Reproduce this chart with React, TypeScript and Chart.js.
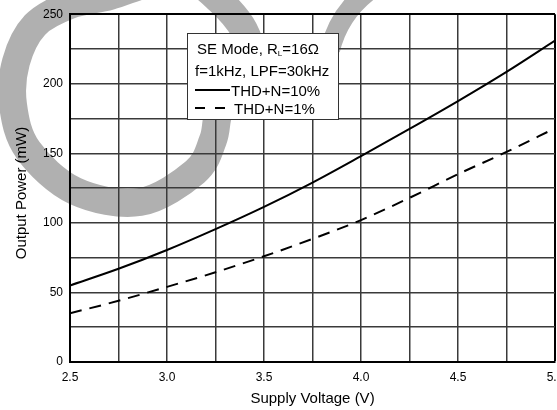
import { useEffect, useRef } from "react";
import { Chart, registerables } from "chart.js";

Chart.register(...registerables);

// Supply voltage sweep (V)
const voltage = [2.5, 2.75, 3.0, 3.25, 3.5, 3.75, 4.0, 4.25, 4.5, 4.75, 5.0];
// Output power (mW) at THD+N = 10%
const thd10 = [55, 67, 80.5, 95.5, 111.5, 129, 148, 167.5, 187.5, 208.5, 231];
// Output power (mW) at THD+N = 1%
const thd1 = [35, 44, 54, 64.5, 76, 88.5, 102, 118, 135, 151, 168];

// Labelled ticks (grid is drawn at half these steps)
const xTickLabels = [2.5, 3.0, 3.5, 4.0, 4.5, 5.0];
const yTickLabels = [0, 50, 100, 150, 200, 250];

const xTitle = "Supply Voltage (V)";
const yTitle = "Output Power (mW)";
const seriesNames = ["THD+N=10%", "THD+N=1%"];

const FONT = '"Liberation Sans", Arial, Helvetica, sans-serif';

type Pt = [number, number];

// Closed Catmull-Rom spline through the given points
function closedSpline(ctx: CanvasRenderingContext2D, pts: Pt[]) {
  const n = pts.length;
  ctx.moveTo(pts[0][0], pts[0][1]);
  for (let i = 0; i < n; i++) {
    const p0 = pts[(i - 1 + n) % n];
    const p1 = pts[i];
    const p2 = pts[(i + 1) % n];
    const p3 = pts[(i + 2) % n];
    ctx.bezierCurveTo(
      p1[0] + (p2[0] - p0[0]) / 6,
      p1[1] + (p2[1] - p0[1]) / 6,
      p2[0] - (p3[0] - p1[0]) / 6,
      p2[1] - (p3[1] - p1[1]) / 6,
      p2[0],
      p2[1]
    );
  }
}

// Grey stamp behind the grid
const stampPlugin = {
  id: "stamp",
  beforeDraw(chart: Chart) {
    const ctx = chart.ctx;
    ctx.save();
    ctx.strokeStyle = "#b0b0b0";
    ctx.lineCap = "butt";
    ctx.lineWidth = 28;
    ctx.beginPath();
    closedSpline(ctx, [
      [150, -17],
      [188, -22],
      [219, 0],
      [244, 30],
      [250, 58],
      [236, 88],
      [219, 112],
      [213, 140],
      [195, 172],
      [140, 202],
      [75, 191],
      [28, 150],
      [13, 105],
      [16, 62],
      [35, 25],
      [70, 5],
      [110, -4],
    ]);
    ctx.stroke();
    ctx.lineWidth = 20;
    ctx.beginPath();
    ctx.moveTo(330, 50);
    ctx.quadraticCurveTo(342, 0, 395, -25);
    ctx.stroke();
    ctx.restore();
  },
};

// Y title and the boxed legend
const annotatePlugin = {
  id: "annotate",
  afterDraw(chart: Chart) {
    const ctx = chart.ctx;
    ctx.save();
    ctx.fillStyle = "#000";
    ctx.font = `15px ${FONT}`;
    ctx.textBaseline = "alphabetic";

    // rotated y-axis title
    ctx.save();
    ctx.translate(26, 193);
    ctx.rotate(-Math.PI / 2);
    ctx.textAlign = "center";
    ctx.fillText(yTitle, 0, 0);
    ctx.restore();

    // legend box
    ctx.fillStyle = "#fff";
    ctx.fillRect(187.5, 33.5, 151, 86);
    ctx.strokeStyle = "#333";
    ctx.lineWidth = 1;
    ctx.strokeRect(187.5, 33.5, 151, 86);

    ctx.fillStyle = "#000";
    ctx.textAlign = "left";
    let x = 197;
    const head = "SE Mode, R";
    ctx.fillText(head, x, 53.5);
    x += ctx.measureText(head).width;
    ctx.font = `8px ${FONT}`;
    ctx.fillText("L", x, 56);
    x += ctx.measureText("L").width;
    ctx.font = `15px ${FONT}`;
    ctx.fillText("=16Ω", x, 53.5);
    ctx.fillText("f=1kHz, LPF=30kHz", 195, 75.5);

    ctx.strokeStyle = "#000";
    ctx.lineWidth = 2;
    ctx.beginPath();
    ctx.moveTo(195, 90);
    ctx.lineTo(230, 90);
    ctx.stroke();
    ctx.fillText(seriesNames[0], 231, 95.5);

    ctx.setLineDash([10, 10]);
    ctx.beginPath();
    ctx.moveTo(195, 108);
    ctx.lineTo(225, 108);
    ctx.stroke();
    ctx.setLineDash([]);
    ctx.fillText(seriesNames[1], 234, 113.5);
    ctx.restore();
  },
};

const near = (list: number[], v: number) => list.some((t) => Math.abs(t - v) < 1e-6);

export default function App() {
  const canvasRef = useRef<HTMLCanvasElement | null>(null);

  useEffect(() => {
    const canvas = canvasRef.current;
    if (!canvas) return;
    const chart = new Chart(canvas, {
      type: "line",
      data: {
        datasets: [
          {
            label: seriesNames[0],
            data: voltage.map((v, i) => ({ x: v, y: thd10[i] })),
            borderColor: "#000",
            borderWidth: 2,
            pointRadius: 0,
            cubicInterpolationMode: "monotone",
            fill: false,
          },
          {
            label: seriesNames[1],
            data: voltage.map((v, i) => ({ x: v, y: thd1[i] })),
            borderColor: "#000",
            borderWidth: 2,
            borderDash: [12, 8],
            pointRadius: 0,
            cubicInterpolationMode: "monotone",
            fill: false,
          },
        ],
      },
      options: {
        responsive: false,
        animation: false,
        devicePixelRatio: 1,
        layout: { padding: { left: 0, right: 25, top: 12, bottom: 0 } },
        plugins: {
          legend: { display: false },
          tooltip: { enabled: false },
          title: { display: false },
        },
        scales: {
          x: {
            type: "linear",
            min: 2.5,
            max: 5.0,
            afterFit: (s: any) => {
              s.height = 48;
            },
            ticks: {
              stepSize: 0.25,
              autoSkip: false,
              maxRotation: 0,
              padding: 8,
              color: "#000",
              font: { family: FONT, size: 12 },
              callback: (v: any) => (near(xTickLabels, Number(v)) ? Number(v).toFixed(1) : ""),
            },
            grid: {
              drawTicks: false,
              color: (c: any) => (c.tick && Math.abs(c.tick.value - 5) < 1e-6 ? "#000" : "#3a3a3a"),
              lineWidth: (c: any) => (c.tick && Math.abs(c.tick.value - 5) < 1e-6 ? 2 : 1.5),
            },
            border: { display: true, color: "#000", width: 2 },
            title: {
              display: true,
              text: xTitle,
              color: "#000",
              font: { family: FONT, size: 15 },
              padding: { top: 0, bottom: 2 },
            },
          },
          y: {
            type: "linear",
            min: 0,
            max: 250,
            afterFit: (s: any) => {
              s.width = 70;
            },
            ticks: {
              stepSize: 25,
              autoSkip: false,
              padding: 7,
              color: "#000",
              font: { family: FONT, size: 12 },
              callback: (v: any) => (near(yTickLabels, Number(v)) ? String(v) : ""),
            },
            grid: {
              drawTicks: false,
              color: (c: any) => (c.tick && c.tick.value === 250 ? "#000" : "#3a3a3a"),
              lineWidth: (c: any) => (c.tick && c.tick.value === 250 ? 2 : 1.5),
            },
            border: { display: true, color: "#000", width: 2 },
          },
        },
      },
      plugins: [stampPlugin, annotatePlugin],
    });
    return () => chart.destroy();
  }, []);

  return (
    <div
      style={{
        position: "fixed",
        left: 0,
        top: 0,
        width: 557,
        height: 410,
        overflow: "hidden",
        background: "#fff",
      }}
    >
      <canvas ref={canvasRef} width={580} height={410} style={{ display: "block" }} />
    </div>
  );
}
